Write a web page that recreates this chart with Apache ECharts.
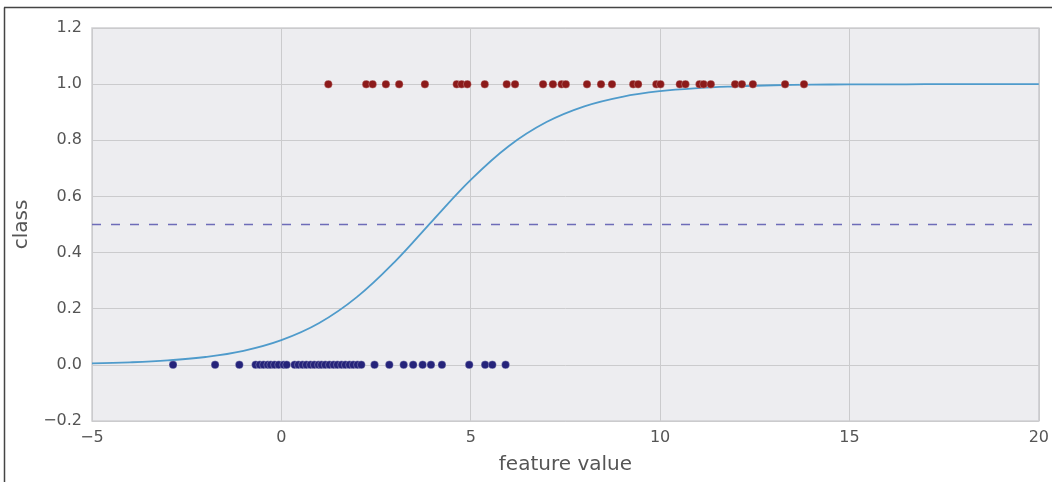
<!DOCTYPE html>
<html>
<head>
<meta charset="utf-8">
<script src="https://cdn.jsdelivr.net/npm/echarts@6/dist/echarts.min.js"></script>
<style>
html,body{margin:0;padding:0;background:#fff;}
#chart{width:1052px;height:482px;}
</style>
</head>
<body>
<div id="chart"></div>
<script>
// Class 1 sample feature values (red points, y = 1)
const class1X = [1.24, 2.24, 2.41, 2.76, 3.11, 3.79, 4.63, 4.76, 4.91, 5.37, 5.95, 6.17,
  6.91, 7.17, 7.40, 7.51, 8.07, 8.44, 8.73, 9.29, 9.42, 9.90, 10.01, 10.52, 10.67,
  11.04, 11.15, 11.34, 11.98, 12.16, 12.45, 13.30, 13.80];
// Class 0 sample feature values (blue points, y = 0)
const class0X = [-2.86, -1.75, -1.11, -0.68, -0.57, -0.47, -0.36, -0.28, -0.18, -0.07,
  0.06, 0.14, 0.35, 0.45, 0.56, 0.66, 0.77, 0.87, 0.98, 1.06, 1.16, 1.27, 1.38, 1.48,
  1.59, 1.69, 1.80, 1.90, 2.01, 2.11, 2.46, 2.85, 3.23, 3.48, 3.73, 3.95, 4.24, 4.96,
  5.38, 5.57, 5.92];
// Fitted curve
const curveX = [-5, -4, -3, -2, -1, 0, 1, 2, 3, 4, 5, 6, 7, 8, 9, 10, 11, 12, 13, 14, 15, 16, 17, 18, 19, 20];
const curveY = [0.005, 0.009, 0.016, 0.028, 0.050, 0.088, 0.149, 0.242, 0.368, 0.515, 0.659, 0.779,
  0.865, 0.921, 0.955, 0.975, 0.986, 0.992, 0.996, 0.998, 0.999, 0.999, 1.0, 1.0, 1.0, 1.0];
const threshold = 0.5;
const xTicks = [-5, 0, 5, 10, 15, 20];
const yTicks = [-0.2, 0.0, 0.2, 0.4, 0.6, 0.8, 1.0, 1.2];

const fmtNum = (v, d) => {
  const s = Math.abs(v).toFixed(d);
  return (v < -1e-9 ? '\u2212' : '') + s;
};

const chart = echarts.init(document.getElementById('chart'), null, {renderer: 'canvas'});
const font = 'DejaVu Sans';
chart.setOption({
  animation: false,
  backgroundColor: '#ffffff',
  grid: {
    left: 92, right: 11, top: 28, bottom: 61,
    show: true, backgroundColor: '#ededf0', borderColor: '#cfcfd2', borderWidth: 1.5
  },
  xAxis: {
    type: 'value', min: xTicks[0], max: xTicks[xTicks.length - 1], interval: 5,
    name: 'feature value', nameLocation: 'middle', nameGap: 34,
    nameTextStyle: {fontFamily: font, fontSize: 20, color: '#555'},
    axisLine: {show: false}, axisTick: {show: false},
    axisLabel: {fontFamily: font, fontSize: 16, color: '#555', margin: 9,
      formatter: v => fmtNum(v, 0)},
    splitLine: {show: true, lineStyle: {color: '#cbcbcd', width: 1}}
  },
  yAxis: {
    type: 'value', min: yTicks[0], max: yTicks[yTicks.length - 1], interval: 0.2,
    name: 'class', nameLocation: 'middle', nameGap: 57, nameRotate: 90,
    nameTextStyle: {fontFamily: font, fontSize: 20, color: '#555'},
    axisLine: {show: false}, axisTick: {show: false},
    axisLabel: {fontFamily: font, fontSize: 16, color: '#555', margin: 10,
      formatter: v => fmtNum(v, 1)},
    splitLine: {show: true, lineStyle: {color: '#cbcbcd', width: 1}}
  },
  graphic: [
    {type: 'line', shape: {x1: 4.5, y1: 7.5, x2: 4.5, y2: 482}, style: {stroke: '#444', lineWidth: 1.5}, z: 100},
    {type: 'line', shape: {x1: 4, y1: 7.5, x2: 1052, y2: 7.5}, style: {stroke: '#444', lineWidth: 1.5}, z: 100}
  ],
  series: [
    {
      type: 'line', data: [[xTicks[0], threshold], [xTicks[xTicks.length - 1], threshold]],
      symbol: 'none', lineStyle: {color: '#6e6cb8', width: 1.6, type: [9, 10]}, z: 2
    },
    {
      type: 'line', data: curveX.map((x, i) => [x, curveY[i]]), smooth: 0.4,
      symbol: 'none', lineStyle: {color: '#4f9bcb', width: 1.8}, z: 3
    },
    {
      type: 'scatter', data: class1X.map(x => [x, 1]), symbolSize: 8,
      itemStyle: {color: '#8c1a1a', borderColor: 'rgba(255,255,255,0.5)', borderWidth: 0.5, opacity: 1}, z: 4
    },
    {
      type: 'scatter', data: class0X.map(x => [x, 0]), symbolSize: 8,
      itemStyle: {color: '#25237a', borderColor: 'rgba(255,255,255,0.5)', borderWidth: 0.5, opacity: 1}, z: 4
    }
  ]
});
</script>
</body>
</html>
